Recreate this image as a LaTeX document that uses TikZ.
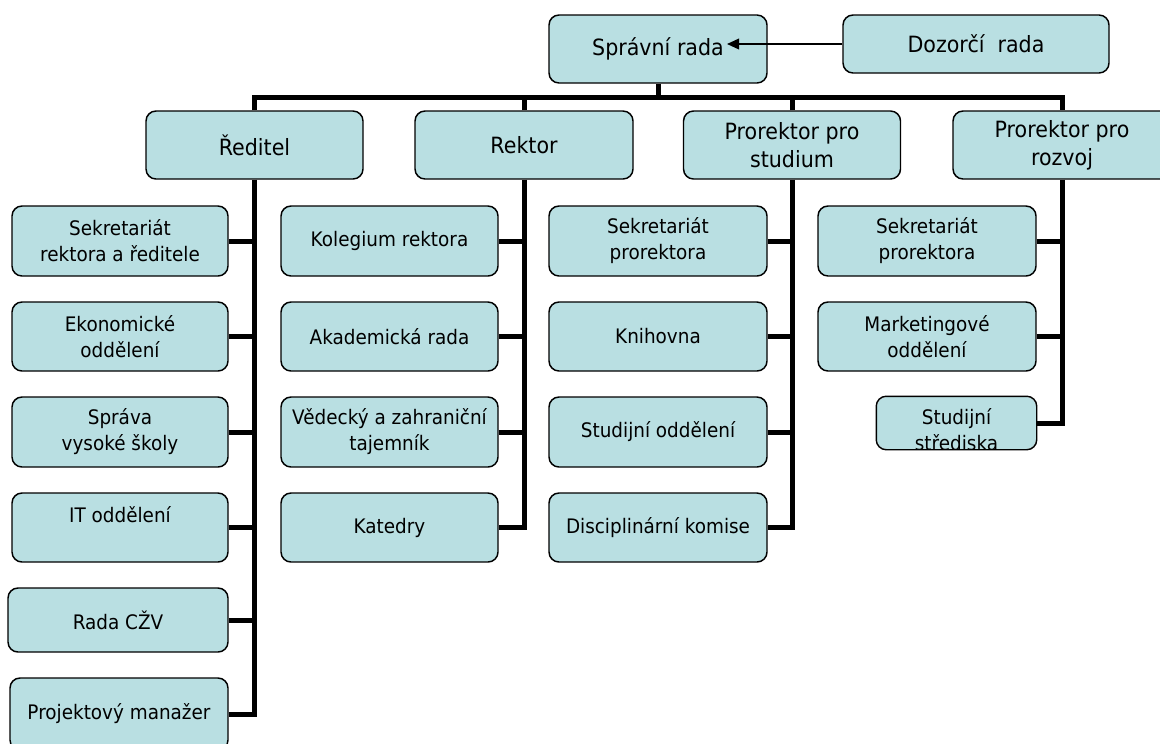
\documentclass[tikz,border=0pt]{standalone}
\usepackage{fontspec}
\setmainfont{DejaVu Sans}[FakeStretch=0.92]
\usetikzlibrary{arrows.meta}
\definecolor{boxfill}{RGB}{185,223,226}
\begin{document}
\begin{tikzpicture}[x=0.75pt,y=-0.75pt,
  box/.style={draw=black, line width=1.1pt, fill=boxfill, rounded corners=7.5pt, inner sep=0pt, align=center, font=\fontsize{15pt}{19.5pt}\selectfont},
  head/.style={box, font=\fontsize{16.8pt}{21pt}\selectfont},
  wh/.style 2 args={minimum width=#1*0.75pt, minimum height=#2*0.75pt},
  tl/.style={line width=3.75pt, line join=miter},
  arr/.style={line width=1.1pt, -{Triangle[length=9pt,width=8pt]}}]
\useasboundingbox (0,0) rectangle (1160,743);
\clip (0,0) rectangle (1160,743);

% top level
\node[head, wh={218}{68}] (spr) at (658,49) {Správní rada};
\node[head, wh={266}{58}] (doz) at (976,44) {Dozorčí~ rada};
\node[head, wh={217}{68}] (red) at (254.5,145) {Ředitel};
\node[head, wh={218}{68}] (rek) at (524,145) {Rektor};
\node[head, wh={217}{68}] (pst) at (792,145) {Prorektor pro\\studium};
\node[head, wh={218}{68}] (ro) at (1062,145) {Prorektor pro\\rozvoj};

% Reditel column
\node[box, wh={216}{70}] (sek1) at (120,241) {Sekretariát\\rektora a ředitele};
\node[box, wh={216}{69}] (eko) at (120,336.5) {Ekonomické\\oddělení};
\node[box, wh={216}{70}] (svs) at (120,432) {Správa\\vysoké školy};
\node[box, wh={216}{69}] (it) at (120,527.5) {IT oddělení\\\mbox{}};
\node[box, wh={220}{64}] (rada) at (118,620) {Rada CŽV};
\node[box, wh={218}{72}] (proj) at (119,714) {Projektový manažer};

% Rektor column
\node[box, wh={217}{70}] (kol) at (389.5,241) {Kolegium rektora};
\node[box, wh={217}{69}] (aka) at (389.5,336.5) {Akademická rada};
\node[box, wh={217}{70}] (ved) at (389.5,432) {Vědecký a zahraniční\\tajemník};
\node[box, wh={217}{69}] (kat) at (389.5,527.5) {Katedry};

% Prorektor pro studium column
\node[box, wh={218}{70}] (sek2) at (658,241) {Sekretariát\\prorektora};
\node[box, wh={218}{69}] (kni) at (658,336.5) {Knihovna};
\node[box, wh={218}{70}] (stu) at (658,432) {Studijní oddělení};
\node[box, wh={218}{69}] (dis) at (658,527.5) {Disciplinární komise};

% Prorektor pro rozvoj column
\node[box, wh={218}{70}] (sek3) at (927,241) {Sekretariát\\prorektora};
\node[box, wh={218}{69}] (mar) at (927,336.5) {Marketingové\\oddělení};
\node[box, draw=none, wh={159}{52}] (sts) at (956.5,423) {};
\begin{scope}
  \clip[rounded corners=7.5pt] (sts.south west) rectangle (sts.north east);
  \node[align=center, inner sep=0pt, font=\fontsize{15pt}{19.5pt}\selectfont] (ststext) at (956.5,430) {Studijní\\střediska};
\end{scope}
\draw[line width=1.1pt, rounded corners=7.5pt] (sts.south west) rectangle (sts.north east);

% arrow
\coordinate (tip) at (727,44);
\draw[arr] (doz.west) -- (tip);

% bus
\coordinate (bus) at (658,97);
\draw[tl] (spr.south) -- (bus);
\draw[tl] (red.north) |- (bus) -| (ro.north);
\draw[tl] (rek.north) -- (rek.north |- bus);
\draw[tl] (pst.north) -- (pst.north |- bus);

% trunks
\draw[tl] (red.south) |- (proj.east);
\foreach \n in {sek1,eko,svs,it,rada} \draw[tl] (\n.east) -- (\n.east -| red.south);
\draw[tl] (rek.south) |- (kat.east);
\foreach \n in {kol,aka,ved} \draw[tl] (\n.east) -- (\n.east -| rek.south);
\draw[tl] (pst.south) |- (dis.east);
\foreach \n in {sek2,kni,stu} \draw[tl] (\n.east) -- (\n.east -| pst.south);
\draw[tl] (ro.south) |- (sts.east);
\foreach \n in {sek3,mar} \draw[tl] (\n.east) -- (\n.east -| ro.south);
\end{tikzpicture}
\end{document}
